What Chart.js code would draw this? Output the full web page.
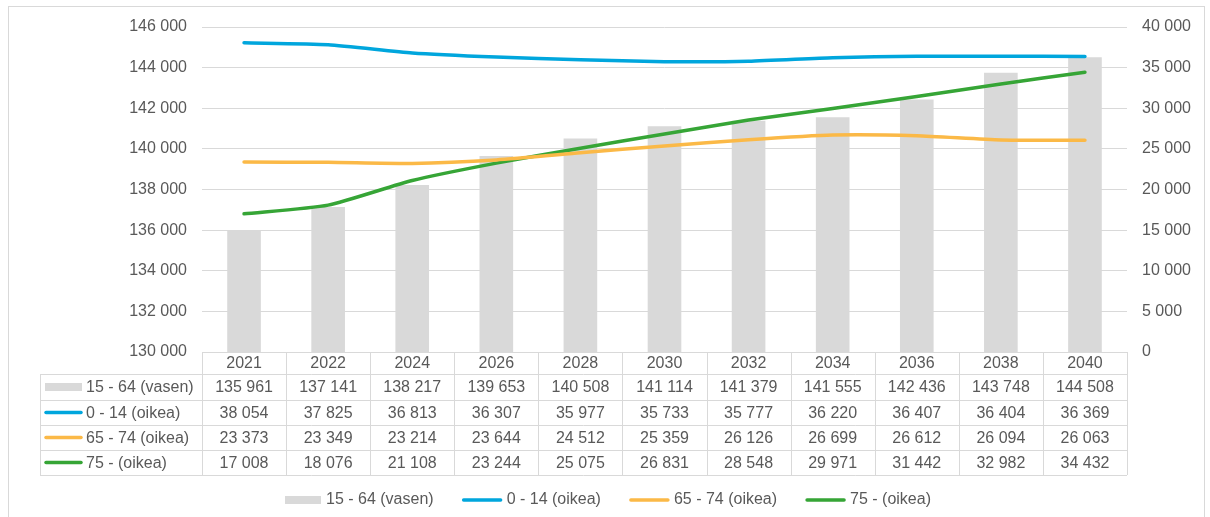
<!DOCTYPE html>
<html>
<head>
<meta charset="utf-8">
<script src="https://cdn.jsdelivr.net/npm/chart.js@4/dist/chart.umd.min.js"></script>
<style>
  body { margin: 0; background: #fff; }
  #wrap { width: 1210px; height: 517px; position: relative; }
</style>
</head>
<body>
<div id="wrap"><canvas id="chart"></canvas></div>
<script>
const years = ["2021", "2022", "2024", "2026", "2028", "2030", "2032", "2034", "2036", "2038", "2040"];
const age15to64 = [135961, 137141, 138217, 139653, 140508, 141114, 141379, 141555, 142436, 143748, 144508];
const age0to14 = [38054, 37825, 36813, 36307, 35977, 35733, 35777, 36220, 36407, 36404, 36369];
const age65to74 = [23373, 23349, 23214, 23644, 24512, 25359, 26126, 26699, 26612, 26094, 26063];
const age75plus = [17008, 18076, 21108, 23244, 25075, 26831, 28548, 29971, 31442, 32982, 34432];
const seriesNames = ["15 - 64 (vasen)", "0 - 14 (oikea)", "65 - 74 (oikea)", "75 - (oikea)"];
const seriesColors = ["#d9d9d9", "#00a6dd", "#fbb947", "#36a536"];

const FONT = "'Liberation Sans', Arial, sans-serif";
const TEXT = "#595959";
const LINE = "#d9d9d9";

function fmt(v) {
  return String(v).replace(/\B(?=(\d{3})+(?!\d))/g, " ");
}

function drawKey(ctx, i, x, y, w) {
  if (i === 0) {
    ctx.fillStyle = seriesColors[0];
    ctx.fillRect(x, y - 4, w, 8);
  } else {
    ctx.strokeStyle = seriesColors[i];
    ctx.lineWidth = 3.5;
    ctx.lineCap = "round";
    ctx.beginPath();
    ctx.moveTo(x + 1, y);
    ctx.lineTo(x + w - 1, y);
    ctx.stroke();
  }
}

// draws the outer frame, the data table and the legend
const tablePlugin = {
  id: "dataTable",
  afterDraw(chart) {
    const ctx = chart.ctx;
    const area = chart.chartArea;
    const colW = (area.right - area.left) / years.length;
    const rows = [352, 374, 400, 425, 450, 475];
    const tableLeft = 40;
    const values = [age15to64, age0to14, age65to74, age75plus];

    ctx.save();
    ctx.strokeStyle = LINE;
    ctx.lineWidth = 1;
    ctx.strokeRect(8.5, 6.5, 1196, 530);

    ctx.beginPath();
    ctx.moveTo(area.left, rows[0] + 0.5);
    ctx.lineTo(area.right, rows[0] + 0.5);
    for (let r = 1; r < rows.length; r++) {
      ctx.moveTo(tableLeft, rows[r] + 0.5);
      ctx.lineTo(area.right, rows[r] + 0.5);
    }
    ctx.moveTo(tableLeft + 0.5, rows[1]);
    ctx.lineTo(tableLeft + 0.5, rows[5]);
    for (let c = 0; c <= years.length; c++) {
      const x = Math.round(area.left + c * colW) + 0.5;
      ctx.moveTo(x, rows[0]);
      ctx.lineTo(x, rows[5]);
    }
    ctx.stroke();

    ctx.font = "16px " + FONT;
    ctx.fillStyle = TEXT;
    ctx.textAlign = "center";
    ctx.textBaseline = "middle";
    years.forEach((yr, c) => {
      const cx = chart.scales.x.getPixelForValue(c);
      ctx.fillText(yr, cx, (rows[0] + rows[1]) / 2 + 1);
      values.forEach((arr, r) => {
        ctx.fillStyle = TEXT;
        ctx.fillText(fmt(arr[c]), cx, (rows[r + 1] + rows[r + 2]) / 2 + 1);
      });
    });

    seriesNames.forEach((name, r) => {
      const cy = (rows[r + 1] + rows[r + 2]) / 2;
      drawKey(ctx, r, 45, cy, 37);
      ctx.fillStyle = TEXT;
      ctx.textAlign = "left";
      ctx.fillText(name, 86, cy + 1);
    });

    // legend
    const keyW = [36, 39, 39, 39];
    const gap = 5, spacing = 29;
    let total = 0;
    seriesNames.forEach((name, i) => {
      total += keyW[i] + gap + ctx.measureText(name).width + (i < 3 ? spacing : 0);
    });
    let lx = 608 - total / 2;
    const ly = 500;
    seriesNames.forEach((name, i) => {
      drawKey(ctx, i, lx, ly, keyW[i]);
      lx += keyW[i] + gap;
      ctx.fillStyle = TEXT;
      ctx.textAlign = "left";
      ctx.fillText(name, lx, ly);
      lx += ctx.measureText(name).width + spacing;
    });
    ctx.restore();
  }
};

Chart.defaults.font.family = FONT;
Chart.defaults.font.size = 16;
Chart.defaults.color = TEXT;

new Chart(document.getElementById("chart"), {
  type: "bar",
  data: {
    labels: years,
    datasets: [
      {
        label: seriesNames[0],
        data: age15to64,
        backgroundColor: seriesColors[0],
        yAxisID: "y",
        order: 2,
        categoryPercentage: 1,
        barPercentage: 0.4,
      },
      {
        type: "line",
        label: seriesNames[1],
        data: age0to14,
        borderColor: seriesColors[1],
        borderWidth: 3.5,
        pointRadius: 0,
        tension: 0.2,
        borderCapStyle: "round",
        yAxisID: "y1",
        order: 1,
      },
      {
        type: "line",
        label: seriesNames[2],
        data: age65to74,
        borderColor: seriesColors[2],
        borderWidth: 3.5,
        pointRadius: 0,
        tension: 0.2,
        borderCapStyle: "round",
        yAxisID: "y1",
        order: 1,
      },
      {
        type: "line",
        label: seriesNames[3],
        data: age75plus,
        borderColor: seriesColors[3],
        borderWidth: 3.5,
        pointRadius: 0,
        tension: 0.2,
        borderCapStyle: "round",
        yAxisID: "y1",
        order: 1,
      },
    ],
  },
  options: {
    responsive: true,
    maintainAspectRatio: false,
    animation: false,
    layout: { padding: { top: 27, bottom: 165, left: 0, right: 0 } },
    plugins: {
      legend: { display: false },
      tooltip: { enabled: false },
    },
    scales: {
      x: { display: false, offset: true },
      y: {
        position: "left",
        min: 130000,
        max: 146000,
        ticks: { stepSize: 2000, padding: 15, callback: (v) => fmt(v) },
        grid: { color: LINE, drawTicks: false },
        border: { display: false },
        afterFit: (scale) => { scale.width = 202; },
      },
      y1: {
        position: "right",
        min: 0,
        max: 40000,
        ticks: { stepSize: 5000, padding: 15, callback: (v) => fmt(v) },
        grid: { display: false, drawTicks: false },
        border: { display: false },
        afterFit: (scale) => { scale.width = 83; },
      },
    },
  },
  plugins: [tablePlugin],
});
</script>
</body>
</html>
